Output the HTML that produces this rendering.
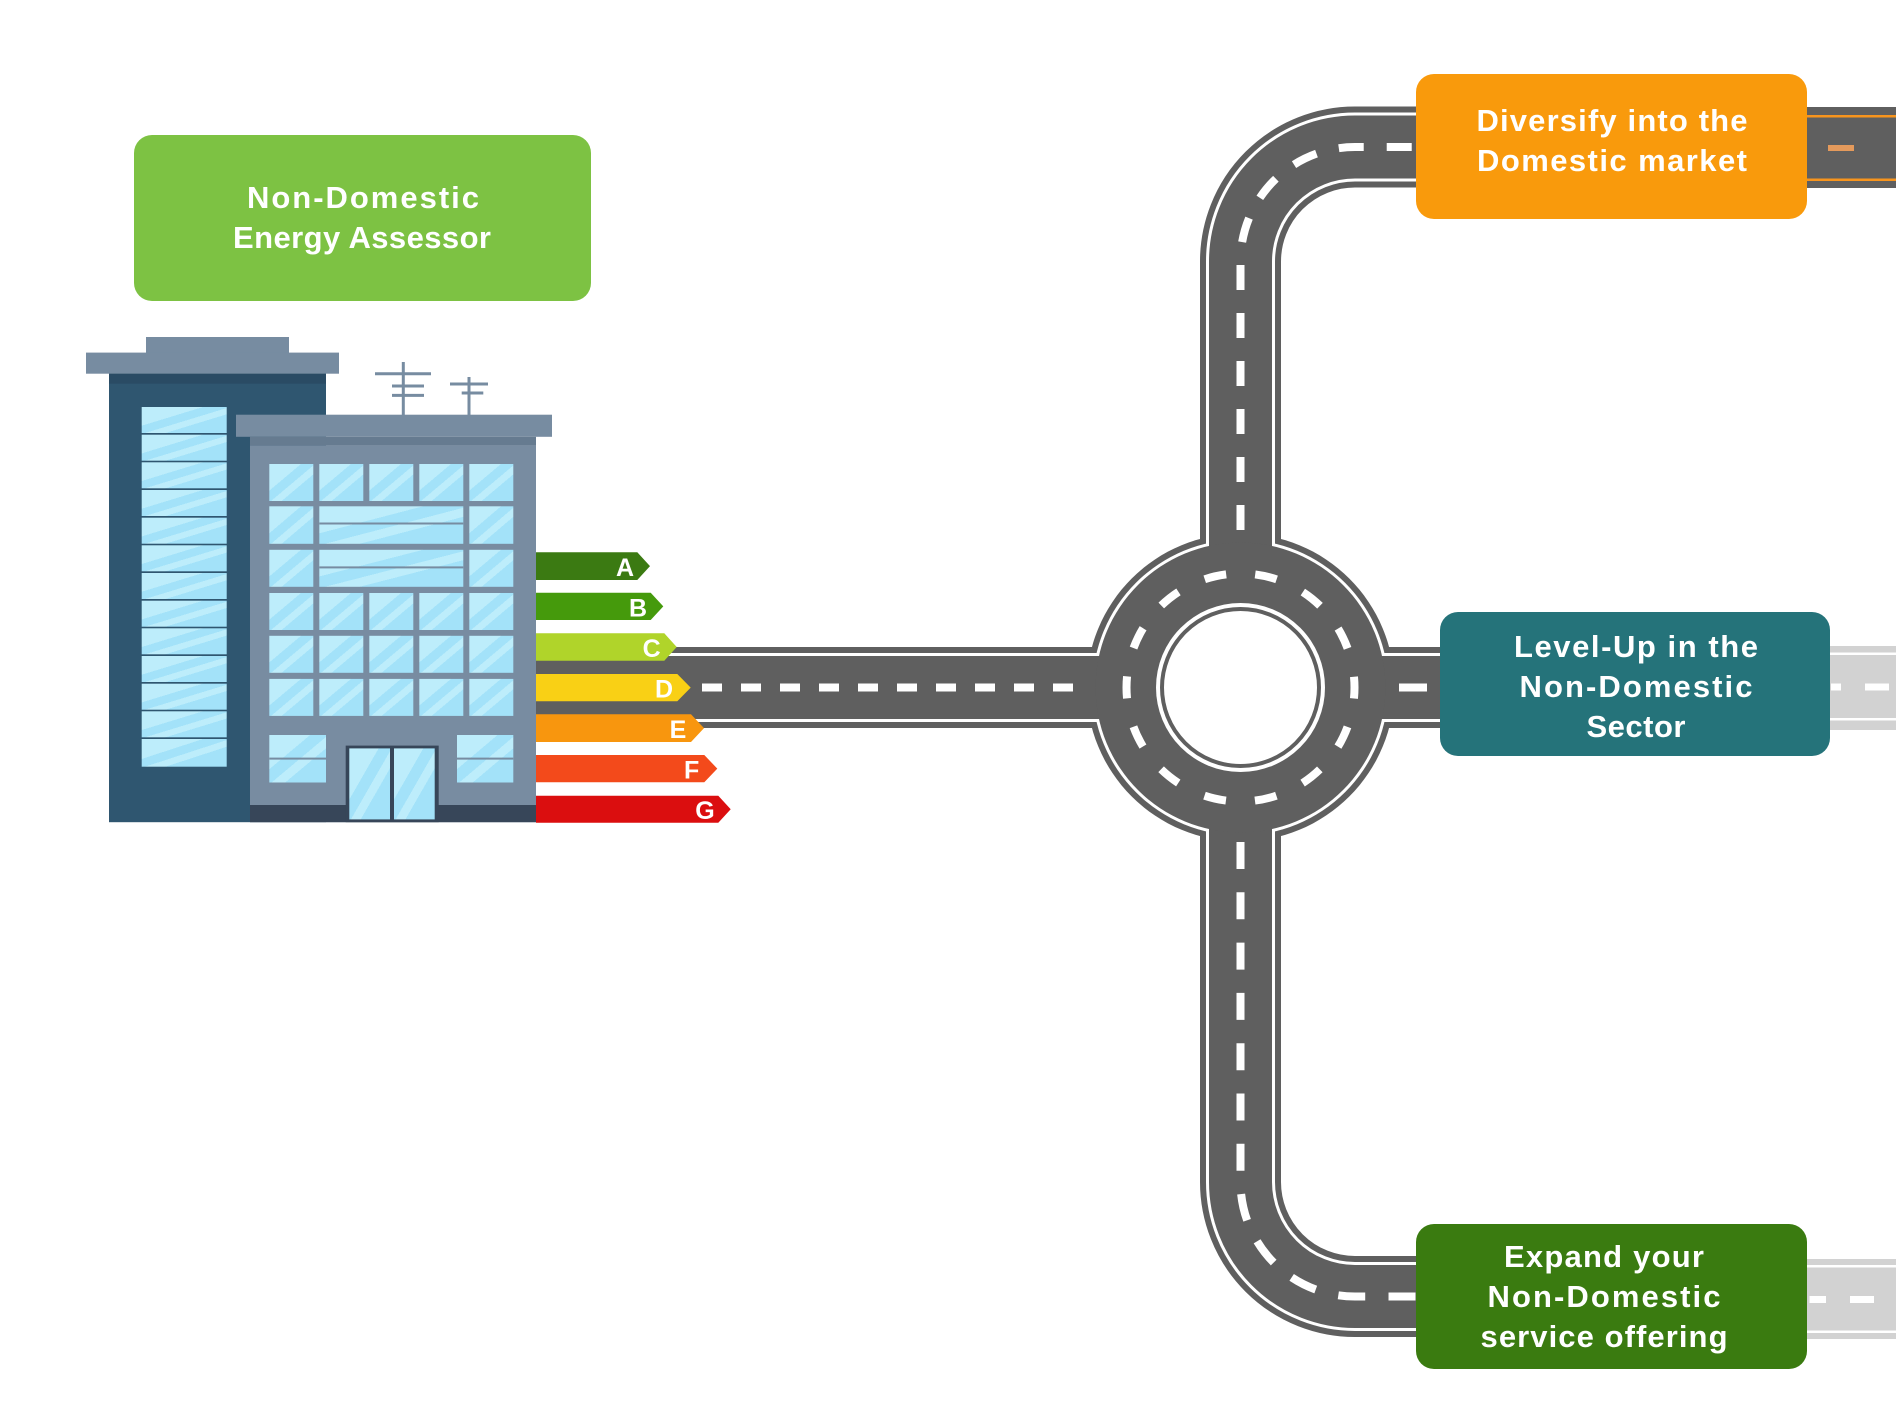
<!DOCTYPE html>
<html><head><meta charset="utf-8">
<style>
html,body{margin:0;padding:0;background:#fff;}
svg{display:block;}
text{font-family:"Liberation Sans",sans-serif;}
</style></head><body>
<svg width="1896" height="1417" viewBox="0 0 1896 1417" xmlns="http://www.w3.org/2000/svg">
<defs>
<linearGradient id="win" x1="0" y1="0" x2="1" y2="1">
 <stop offset="0" stop-color="#bdedfb"/>
 <stop offset="0.36" stop-color="#bdedfb"/>
 <stop offset="0.36" stop-color="#a3e2f9"/>
 <stop offset="0.52" stop-color="#a3e2f9"/>
 <stop offset="0.52" stop-color="#bdedfb"/>
 <stop offset="0.64" stop-color="#bdedfb"/>
 <stop offset="0.64" stop-color="#a3e2f9"/>
 <stop offset="1" stop-color="#a3e2f9"/>
</linearGradient>
<path id="rl" d="M536 687.5 H1241"/>
<path id="rr" d="M1241 687.5 H1445"/>
<path id="rt" d="M1240.5 687.5 V261.5 A114.5 114.5 0 0 1 1355 147 H1420"/>
<path id="rb" d="M1240.5 687.5 V1182 A114.5 114.5 0 0 0 1355 1296.5 H1420"/>
</defs>

<!-- ROADS -->
<g fill="none">
 <g stroke="#5f5f5f" stroke-width="81">
  <use href="#rl"/><use href="#rr"/><use href="#rt"/><use href="#rb"/>
 </g>
 <circle cx="1240.5" cy="687.5" r="154" fill="#5f5f5f"/>
 <g stroke="#ffffff" stroke-width="69">
  <use href="#rl"/><use href="#rr"/><use href="#rt"/><use href="#rb"/>
 </g>
 <circle cx="1240.5" cy="687.5" r="148" fill="#ffffff"/>
 <g stroke="#5f5f5f" stroke-width="63">
  <use href="#rl"/><use href="#rr"/><use href="#rt"/><use href="#rb"/>
 </g>
 <circle cx="1240.5" cy="687.5" r="145" fill="#5f5f5f"/>
 <!-- island -->
 <circle cx="1240.5" cy="687.5" r="84.5" fill="#ffffff"/>
 <circle cx="1240.5" cy="687.5" r="78.5" fill="none" stroke="#5f5f5f" stroke-width="4"/>
 <!-- dashes -->
 <g stroke="#ffffff" stroke-width="8">
  <path d="M702 687.5 H1092" stroke-dasharray="20 19"/>
  <path d="M1399 687.5 H1427"/>
  <path d="M1240.5 530 V261.5 A114.5 114.5 0 0 1 1355 147 H1416" stroke-dasharray="25 23"/>
  <path d="M1240.5 842 V1182 A114.5 114.5 0 0 0 1355 1296.5 H1416" stroke-dasharray="27 23.3"/>
  <circle cx="1240.5" cy="687.5" r="114" stroke-dasharray="22 29.16" stroke-dashoffset="11"/>
 </g>
</g>

<!-- right-side road stubs -->
<rect x="1800" y="107" width="96" height="81" fill="#5f5f5f"/>
<rect x="1800" y="115" width="96" height="2.5" fill="#f7941d"/>
<rect x="1800" y="178.5" width="96" height="2.5" fill="#f7941d"/>
<rect x="1828" y="145" width="26" height="6" fill="#e49a5c"/>

<rect x="1820" y="646" width="76" height="84" fill="#d2d2d2"/>
<rect x="1820" y="652.5" width="76" height="2.5" fill="#ffffff"/>
<rect x="1820" y="718" width="76" height="2.5" fill="#ffffff"/>
<rect x="1831" y="683.5" width="10" height="7" fill="#ffffff"/>
<rect x="1865" y="683.5" width="24" height="7" fill="#ffffff"/>

<rect x="1800" y="1259" width="96" height="80" fill="#d2d2d2"/>
<rect x="1800" y="1265" width="96" height="2.5" fill="#ffffff"/>
<rect x="1800" y="1330.5" width="96" height="2.5" fill="#ffffff"/>
<rect x="1809.5" y="1296" width="16.5" height="7" fill="#ffffff"/>
<rect x="1850" y="1296" width="24" height="7" fill="#ffffff"/>

<!-- ENERGY BARS -->
<polygon points="536,552.3 637.3,552.3 650,566.15 637.3,580 536,580" fill="#3b7a12"/>
<polygon points="536,592.7 650.7,592.7 663.3,606.35 650.7,620 536,620" fill="#459a0c"/>
<polygon points="536,633.3 664.3,633.3 676.7,647 664.3,660.7 536,660.7" fill="#b0d42a"/>
<polygon points="536,674 677.3,674 690.7,687.65 677.3,701.3 536,701.3" fill="#f9d015"/>
<polygon points="536,714.3 691,714.3 704,728.15 691,742 536,742" fill="#f8960e"/>
<polygon points="536,755 704.3,755 717.3,768.65 704.3,782.3 536,782.3" fill="#f34a1b"/>
<polygon points="536,795.7 718.3,795.7 730.7,809.2 718.3,822.7 536,822.7" fill="#db0e0f"/>
<g fill="#ffffff" font-size="25" font-weight="bold" text-anchor="middle">
 <text x="625" y="576">A</text>
 <text x="638" y="616.5">B</text>
 <text x="651.7" y="657">C</text>
 <text x="664" y="697.5">D</text>
 <text x="678" y="738">E</text>
 <text x="691.7" y="778.5">F</text>
 <text x="705" y="819">G</text>
</g>

<!-- BUILDING: tower -->
<rect x="146" y="337" width="143" height="16" fill="#778ca1"/>
<rect x="86" y="352.6" width="253" height="21.1" fill="#778ca1"/>
<rect x="109" y="373.7" width="217" height="448.5" fill="#2f5670"/>
<rect x="109" y="373.7" width="217" height="10" fill="#2a4b64"/>
<g fill="url(#win)">
 <rect x="141.7" y="407" width="85" height="26"/>
 <rect x="141.7" y="434.7" width="85" height="26"/>
 <rect x="141.7" y="462.3" width="85" height="26"/>
 <rect x="141.7" y="490" width="85" height="26"/>
 <rect x="141.7" y="517.7" width="85" height="26"/>
 <rect x="141.7" y="545.3" width="85" height="26"/>
 <rect x="141.7" y="573" width="85" height="26"/>
 <rect x="141.7" y="600.7" width="85" height="26"/>
 <rect x="141.7" y="628.3" width="85" height="26"/>
 <rect x="141.7" y="656" width="85" height="26"/>
 <rect x="141.7" y="683.7" width="85" height="26"/>
 <rect x="141.7" y="711.3" width="85" height="26"/>
 <rect x="141.7" y="739" width="85" height="27.7"/>
</g>
<!-- antennas -->
<g stroke="#778ca1" stroke-width="3">
 <line x1="403.3" y1="362" x2="403.3" y2="415"/>
 <line x1="375" y1="373.7" x2="431" y2="373.7"/>
 <line x1="392" y1="386" x2="424" y2="386"/>
 <line x1="392" y1="395.4" x2="424" y2="395.4"/>
 <line x1="469" y1="377" x2="469" y2="415"/>
 <line x1="450" y1="384" x2="488" y2="384"/>
 <line x1="461.7" y1="393" x2="483.3" y2="393"/>
</g>
<!-- front building -->
<rect x="236" y="414.7" width="316" height="22.1" fill="#778ca1"/>
<rect x="250" y="436.8" width="286" height="8.8" fill="#667b90"/>
<rect x="250" y="445.6" width="286" height="376.6" fill="#788ca1"/>
<rect x="250" y="805" width="286" height="17.2" fill="#374659"/>
<g fill="url(#win)">
 <rect x="269.3" y="464" width="44" height="37"/>
 <rect x="319.3" y="464" width="44" height="37"/>
 <rect x="369.3" y="464" width="44" height="37"/>
 <rect x="419.3" y="464" width="44" height="37"/>
 <rect x="469.3" y="464" width="44" height="37"/>
 <rect x="269.3" y="506.3" width="44" height="37.5"/>
 <rect x="319.3" y="506.3" width="144" height="37.5"/>
 <rect x="469.3" y="506.3" width="44" height="37.5"/>
 <rect x="269.3" y="549.8" width="44" height="37"/>
 <rect x="319.3" y="549.8" width="144" height="37"/>
 <rect x="469.3" y="549.8" width="44" height="37"/>
 <rect x="269.3" y="593" width="44" height="37"/>
 <rect x="319.3" y="593" width="44" height="37"/>
 <rect x="369.3" y="593" width="44" height="37"/>
 <rect x="419.3" y="593" width="44" height="37"/>
 <rect x="469.3" y="593" width="44" height="37"/>
 <rect x="269.3" y="635.8" width="44" height="37"/>
 <rect x="319.3" y="635.8" width="44" height="37"/>
 <rect x="369.3" y="635.8" width="44" height="37"/>
 <rect x="419.3" y="635.8" width="44" height="37"/>
 <rect x="469.3" y="635.8" width="44" height="37"/>
 <rect x="269.3" y="678.9" width="44" height="37"/>
 <rect x="319.3" y="678.9" width="44" height="37"/>
 <rect x="369.3" y="678.9" width="44" height="37"/>
 <rect x="419.3" y="678.9" width="44" height="37"/>
 <rect x="469.3" y="678.9" width="44" height="37"/>
 <rect x="269.3" y="735" width="56.7" height="47.5"/>
 <rect x="457" y="735" width="56.3" height="47.5"/>
</g>
<g fill="#778ca1">
 <rect x="319.3" y="522.5" width="144" height="2"/>
 <rect x="319.3" y="566.4" width="144" height="2"/>
 <rect x="269.3" y="757.6" width="56.7" height="2"/>
 <rect x="457" y="757.6" width="56.3" height="2"/>
</g>
<!-- door -->
<rect x="345.7" y="745.6" width="93" height="76.6" fill="#374659"/>
<rect x="349.3" y="748.4" width="40.7" height="71" fill="url(#win)"/>
<rect x="394" y="748.4" width="40.7" height="71" fill="url(#win)"/>

<!-- BOXES -->
<rect x="134" y="135" width="457" height="166" rx="18" fill="#7dc243"/>
<rect x="1416" y="74" width="391" height="145" rx="18" fill="#f99a0c"/>
<rect x="1440" y="612" width="390" height="144" rx="18" fill="#25737a"/>
<rect x="1416" y="1224" width="391" height="145" rx="18" fill="#3a7b10"/>

<g fill="#ffffff" font-size="31" font-weight="bold" text-anchor="middle">
 <text x="363" y="208" textLength="232">Non-Domestic</text>
 <text x="362" y="248" textLength="258">Energy Assessor</text>
 <text x="1612" y="131" textLength="271">Diversify into the</text>
 <text x="1612" y="171" textLength="270">Domestic market</text>
 <text x="1636" y="657" textLength="244">Level-Up in the</text>
 <text x="1636" y="697" textLength="233">Non-Domestic</text>
 <text x="1636" y="737" textLength="99">Sector</text>
 <text x="1604" y="1267" textLength="200">Expand your</text>
 <text x="1604" y="1307" textLength="233">Non-Domestic</text>
 <text x="1604" y="1347" textLength="247">service offering</text>
</g>
</svg>
</body></html>
